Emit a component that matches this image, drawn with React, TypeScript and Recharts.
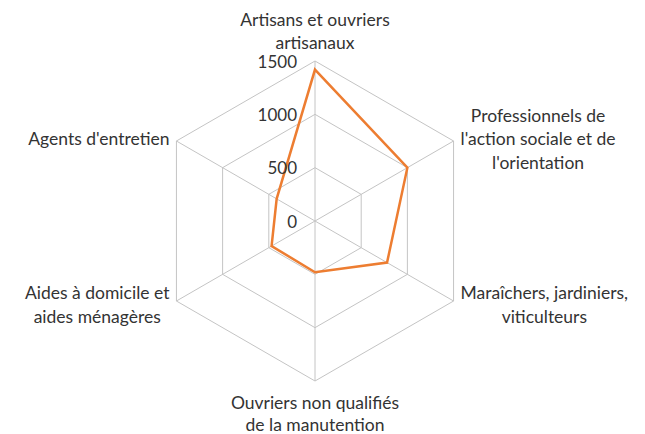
import { RadarChart, Radar, PolarGrid, PolarAngleAxis, PolarRadiusAxis } from 'recharts';

const categories = [
    "Artisans et ouvriers\nartisanaux",
    "Professionnels de\nl'action sociale et de\nl'orientation",
    "Maraîchers, jardiniers,\nviticulteurs",
    "Ouvriers non qualifiés\nde la manutention",
    "Aides à domicile et\naides ménagères",
    "Agents d'entretien",
];
const values = [1420, 1000, 780, 480, 470, 415];
const radiusTicks = [0, 500, 1000, 1500];

const data = categories.map((name, i) => ({ name, value: values[i] }));

const CX = 315;
const CY = 221;
const R = 160;
const FONT = 'Lato, sans-serif';
const FONT_SIZE = 17.5;
const LINE_H = 23.5;
const TEXT = '#333333';

let ctx: CanvasRenderingContext2D | null = null;
const measure = (s: string) => {
    if (!ctx) {
        ctx = document.createElement('canvas').getContext('2d');
    }
    if (!ctx) return s.length * 8;
    ctx.font = `${FONT_SIZE}px ${FONT}`;
    return ctx.measureText(s).width;
};

const AngleTick = (props: any) => {
    const { payload } = props;
    const lines: string[] = String(payload.value).split('\n');
    const rad = (payload.coordinate * Math.PI) / 180;
    const vx = CX + R * Math.cos(rad);
    const vy = CY - R * Math.sin(rad);
    const widest = Math.max(...lines.map(measure));
    const n = lines.length;
    let x = vx;
    let firstY = vy;
    let lh = LINE_H;
    if (Math.abs(Math.cos(rad)) < 0.01) {
        if (Math.sin(rad) > 0) {
            firstY = vy - 19 - (n - 1) * lh;
        } else {
            // bottom label sits close to the page edge
            lh = 22;
            firstY = vy + 21;
        }
    } else {
        x = Math.cos(rad) > 0 ? vx + 7 + widest / 2 : vx - 7 - widest / 2;
        const shift = Math.sin(rad) > 0 ? -3 : 3;
        firstY = vy + shift - ((n - 1) * lh) / 2;
    }
    return (
        <text x={x} y={firstY} textAnchor="middle" dominantBaseline="central" fill={TEXT} fontSize={FONT_SIZE} fontFamily={FONT}>
            {lines.map((l, i) => (
                <tspan key={i} x={x} y={firstY + i * lh}>{l}</tspan>
            ))}
        </text>
    );
};

const RadiusTick = (props: any) => {
    const { x, y, payload } = props;
    return (
        <text x={x - 18} y={y} textAnchor="end" dominantBaseline="central" fill={TEXT} fontSize={17} fontFamily={FONT}>
            {payload.value}
        </text>
    );
};

const App = () => {
    return (
        <div style={{ position: 'absolute', left: 0, top: 0, width: 645, height: 434, background: '#fff' }}>
            <RadarChart width={645} height={434} data={data} cx={CX} cy={CY} outerRadius={R} margin={{ top: 0, right: 0, bottom: 0, left: 0 }}>
                <PolarGrid gridType="polygon" stroke="#c4c4c4" strokeWidth={1} />
                <PolarAngleAxis dataKey="name" tick={<AngleTick />} tickLine={false} axisLine={false} />
                <PolarRadiusAxis
                    angle={90}
                    domain={[0, 1500]}
                    ticks={radiusTicks}
                    tickCount={4}
                    tick={<RadiusTick />}
                    axisLine={false}
                    tickLine={false}
                />
                <Radar
                    dataKey="value"
                    stroke="#ED7D31"
                    strokeWidth={2.5}
                    fill="none"
                    fillOpacity={0}
                    dot={false}
                    isAnimationActive={false}
                />
            </RadarChart>
        </div>
    );
};

export default App;
